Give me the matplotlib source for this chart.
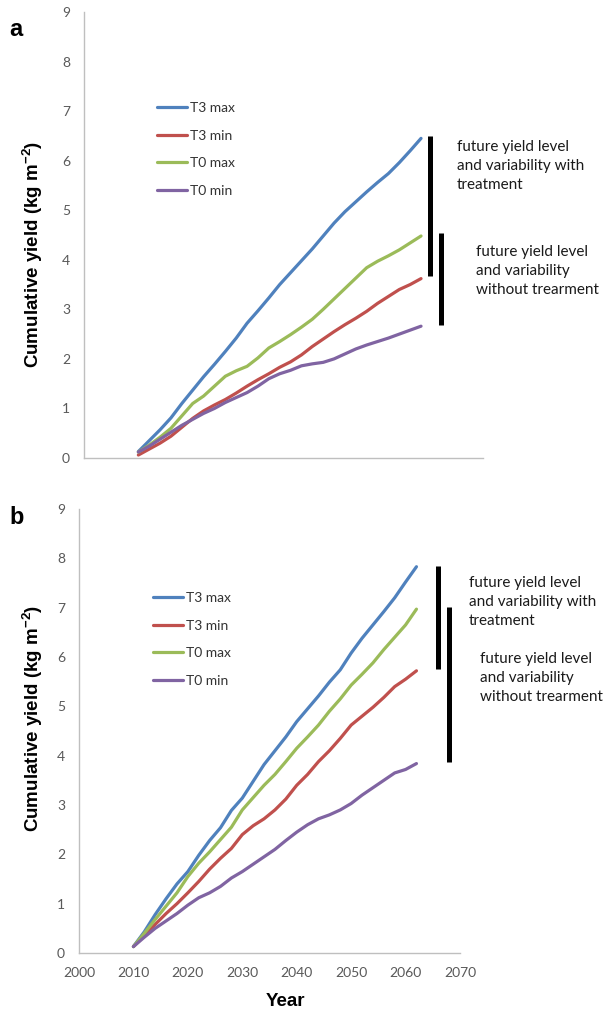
import numpy as np
import matplotlib
matplotlib.use('Agg')
import matplotlib.pyplot as plt

plt.rcParams['mathtext.fontset'] = 'custom'
plt.rcParams['mathtext.rm'] = 'Liberation Sans:bold'
plt.rcParams['mathtext.bf'] = 'Liberation Sans:bold'

years = [2010, 2012, 2014, 2016, 2018, 2020, 2022, 2024, 2026, 2028, 2030, 2032, 2034,
         2036, 2038, 2040, 2042, 2044, 2046, 2048, 2050, 2052, 2054, 2056, 2058, 2060, 2062]

# panel a
a_t3max = [0.13, 0.35, 0.57, 0.81, 1.10, 1.37, 1.64, 1.89, 2.15, 2.42, 2.72, 2.97, 3.23,
           3.50, 3.74, 3.98, 4.22, 4.48, 4.74, 4.97, 5.17, 5.37, 5.56, 5.74, 5.96, 6.20, 6.45]
a_t3min = [0.06, 0.18, 0.30, 0.44, 0.62, 0.80, 0.95, 1.07, 1.18, 1.31, 1.45, 1.58, 1.70,
           1.83, 1.94, 2.08, 2.25, 2.40, 2.55, 2.69, 2.82, 2.96, 3.12, 3.26, 3.40, 3.50, 3.62]
a_t0max = [0.12, 0.26, 0.42, 0.60, 0.85, 1.10, 1.25, 1.45, 1.65, 1.76, 1.85, 2.02, 2.22,
           2.35, 2.49, 2.64, 2.80, 3.00, 3.21, 3.42, 3.63, 3.84, 3.97, 4.08, 4.20, 4.34, 4.48]
a_t0min = [0.12, 0.24, 0.38, 0.52, 0.66, 0.78, 0.90, 1.00, 1.12, 1.22, 1.32, 1.45, 1.60,
           1.70, 1.77, 1.86, 1.90, 1.93, 2.00, 2.10, 2.20, 2.28, 2.35, 2.42, 2.50, 2.58, 2.66]

# panel b
b_t3max = [0.13, 0.43, 0.78, 1.10, 1.40, 1.65, 1.98, 2.28, 2.54, 2.89, 3.14, 3.48, 3.82,
           4.10, 4.38, 4.69, 4.95, 5.21, 5.49, 5.74, 6.08, 6.38, 6.65, 6.92, 7.20, 7.52, 7.83]
b_t3min = [0.13, 0.35, 0.58, 0.80, 1.00, 1.22, 1.45, 1.70, 1.92, 2.12, 2.40, 2.58, 2.72,
           2.90, 3.12, 3.40, 3.62, 3.88, 4.10, 4.35, 4.62, 4.80, 4.98, 5.18, 5.40, 5.55, 5.72]
b_t0max = [0.13, 0.40, 0.68, 0.95, 1.22, 1.55, 1.82, 2.05, 2.30, 2.55, 2.90, 3.15, 3.40,
           3.62, 3.88, 4.15, 4.38, 4.62, 4.90, 5.15, 5.43, 5.65, 5.88, 6.15, 6.40, 6.65, 6.97]
b_t0min = [0.13, 0.32, 0.50, 0.65, 0.80, 0.97, 1.12, 1.22, 1.35, 1.52, 1.65, 1.80, 1.95,
           2.10, 2.28, 2.45, 2.60, 2.72, 2.80, 2.90, 3.03, 3.20, 3.35, 3.50, 3.65, 3.72, 3.84]

labels = ['T3 max', 'T3 min', 'T0 max', 'T0 min']
colors = ['#4F81BD', '#C0504D', '#9BBB59', '#8064A2']
x_ticks = [2000, 2010, 2020, 2030, 2040, 2050, 2060, 2070]
y_ticks = [0, 1, 2, 3, 4, 5, 6, 7, 8, 9]

note_with = 'future yield level\nand variability with\ntreatment'
note_without = 'future yield level\nand variability\nwithout trearment'
ylab = 'Cumulative yield (kg m$^{-2}$)'

W, H = 607, 1009
fig = plt.figure(figsize=(W / 100, H / 100), dpi=100)


def fx(px):
    return px / W


def fy(py):
    return 1 - py / H


def setup_axes(ax, xmax, show_x):
    ax.set_xlim(2000, xmax)
    ax.set_ylim(0, 9)
    ax.set_xticks(x_ticks)
    ax.set_yticks(y_ticks)
    for s in ['top', 'right']:
        ax.spines[s].set_visible(False)
    for s in ['left', 'bottom']:
        ax.spines[s].set_color('#BFBFBF')
        ax.spines[s].set_linewidth(1.0)
    ax.tick_params(length=0, pad=10, labelsize=10, labelcolor='#595959')
    for t in ax.get_xticklabels() + ax.get_yticklabels():
        t.set_fontfamily('Lato')
    if not show_x:
        ax.set_xticklabels([])


def draw_panel(ax, series, leg_xy, bars):
    for vals, lab, c in zip(series, labels, colors):
        ax.plot(years, vals, color=c, lw=2.3, label=lab, solid_capstyle='round')
    leg = ax.legend(loc='upper left', bbox_to_anchor=leg_xy, bbox_transform=fig.transFigure,
                    frameon=False, borderpad=0, borderaxespad=0, handlelength=2.15,
                    handletextpad=0.2, labelspacing=1.12,
                    prop={'family': 'Lato', 'size': 10})
    for t in leg.get_texts():
        t.set_color('#333333')
    # vertical bars spanning the range of end values
    for xb, top, bot in bars:
        ax.plot([xb, xb], [bot, top], color='black', lw=3.6, solid_capstyle='butt', clip_on=False)


ax1 = fig.add_axes([fx(84), fy(458), fx(399), 446 / H])
draw_panel(ax1, [a_t3max, a_t3min, a_t0max, a_t0min], (fx(157), fy(102)),
           [(2063.7, a_t3max[-1] + 0.04, a_t3min[-1] + 0.05),
            (2065.75, a_t0max[-1] + 0.06, a_t0min[-1] + 0.02)])
setup_axes(ax1, 2073.4, False)

ax2 = fig.add_axes([fx(79), fy(953), fx(381), 444 / H])
draw_panel(ax2, [b_t3max, b_t3min, b_t0max, b_t0min], (fx(153), fy(592)),
           [(2066.0, b_t3max[-1] + 0.01, b_t3min[-1] + 0.04),
            (2068.0, b_t0max[-1] + 0.04, b_t0min[-1] + 0.03)])
setup_axes(ax2, 2070, True)

note_style = dict(family='Lato', fontsize=11, color='#1A1A1A', ha='left', va='center',
                  linespacing=1.45)
fig.text(fx(457), fy(166), note_with, **note_style)
fig.text(fx(476), fy(271), note_without, **note_style)
fig.text(fx(469), fy(602), note_with, **note_style)
fig.text(fx(480), fy(678), note_without, **note_style)

lab_style = dict(family='Liberation Sans', fontweight='bold', fontsize=13.5, color='black')
fig.text(fx(33), fy(254), ylab, rotation=90, ha='center', va='center', **lab_style)
fig.text(fx(33), fy(718), ylab, rotation=90, ha='center', va='center', **lab_style)
fig.text(fx(285), fy(1002), 'Year', ha='center', va='center', **lab_style)

fig.text(fx(16), fy(30), 'a', ha='center', va='center', family='Liberation Sans',
         fontweight='bold', fontsize=17)
fig.text(fx(17), fy(517), 'b', ha='center', va='center', family='Liberation Sans',
         fontweight='bold', fontsize=17)

fig.savefig('out.png', dpi=100)
